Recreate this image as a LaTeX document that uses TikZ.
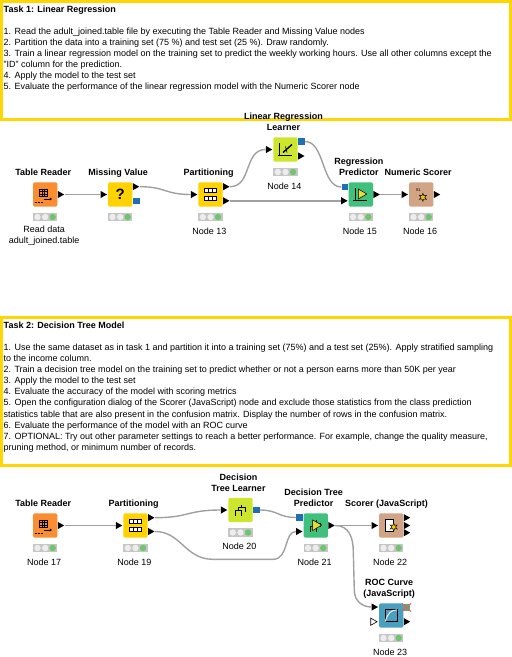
\documentclass[tikz,border=0pt]{standalone}
\usepackage{fontspec}
\setmainfont{Liberation Sans}
\usetikzlibrary{positioning,shapes.geometric}
\definecolor{FrameYellow}{HTML}{FFD700}
\definecolor{Reader}{HTML}{FA8C32}
\definecolor{Manip}{HTML}{FFD200}
\definecolor{Learner}{HTML}{CDE62D}
\definecolor{Predictor}{HTML}{3FC07C}
\definecolor{Scorer}{HTML}{D2A384}
\definecolor{Viewer}{HTML}{4A9FC1}
\definecolor{PortBlue}{HTML}{1F6FB5}
\definecolor{Wire}{HTML}{A0A0A0}
\definecolor{BarGray}{HTML}{C6C6C6}
\definecolor{LampOff}{HTML}{EDEDED}
\definecolor{LampOn}{HTML}{6CC76A}
\definecolor{IconYellow}{HTML}{E8DC32}
\definecolor{StarYellow}{HTML}{F5C810}
\definecolor{CrossRed}{HTML}{E8605A}
\tikzset{
  tableico/.pic={
    \draw[line width=0.5pt] (-5.7,-5.5) rectangle (1.7,2.2);
    \draw[line width=0.35pt] (-5.7,-3) -- (1.7,-3) (-5.7,-0.4) -- (1.7,-0.4) (-3.2,-5.5) -- (-3.2,2.2) (-0.8,-5.5) -- (-0.8,2.2);
    \draw[line width=0.8pt] (-1,4.5) -- (6.2,4.5);
    \fill (6.9,4.5) -- (4.6,3) -- (4.6,6) -- cycle;
    \foreach \x in {-9,-6,-3} \fill (\x-0.8,7.6) rectangle (\x+0.8,8.9);
  },
  partico/.pic={
    \foreach \y in {-3.8,3.8} {
      \draw[line width=0.8pt, fill=white] (-6,\y-1.9) rectangle (6,\y+1.9);
      \draw[line width=0.8pt] (-2,\y-1.9) -- (-2,\y+1.9) (2,\y-1.9) -- (2,\y+1.9);
    }
  },
  axesico/.pic={
    \draw[line width=0.8pt] (-5.8,-6.5) -- (-5.8,6.5) (-8,5.4) -- (6.5,5.4);
  },
  treeico/.pic={
    \draw[line width=1pt] (-5,6) -- (-5,0.5) -- (0.5,0.5) -- (0.5,6) (-2.2,0.5) -- (-2.2,-2.5) -- (4.5,-2.5) -- (4.5,1.5) (1,-2.5) -- (1,-5.5);
  },
  starico/.pic={
    \draw[fill=StarYellow, line width=0.5pt] (0,-4) -- (0.95,-1.65) -- (3.46,-2) -- (1.9,0) -- (3.46,2) -- (0.95,1.65) -- (0,4) -- (-0.95,1.65) -- (-3.46,2) -- (-1.9,0) -- (-3.46,-2) -- (-0.95,-1.65) -- cycle;
  }
}

\begin{document}
\begin{tikzpicture}[
  x=1pt, y=-1pt,
  knode/.style={
    rounded corners=1.5pt,
    inner sep=0pt,
    minimum width=24.4pt,
    minimum height=24.4pt
  },
  lights/.style={
    fill=BarGray,
    inner sep=0pt,
    minimum width=24.4pt,
    minimum height=8.8pt,
    below=5.5pt of #1,
    path picture={
      \fill[LampOff] ([xshift=-7.7pt]path picture bounding box.center) circle (3.2pt);
      \fill[LampOff] (path picture bounding box.center) circle (3.2pt);
      \fill[LampOn] ([xshift=7.5pt]path picture bounding box.center) circle (3.2pt);
    }
  },
  port/.style={
    isosceles triangle,
    isosceles triangle stretches,
    fill=black,
    inner sep=0pt,
    minimum width=7.2pt,
    minimum height=6.4pt
  },
  holeport/.style={port, fill=white, draw=black, line width=0.6pt},
  modelport/.style={fill=PortBlue, inner sep=0pt, minimum size=6.7pt},
  wire/.style={draw=Wire, line width=1.4pt},
  frame/.style={draw=FrameYellow, line width=3pt},
  tasktext/.style={anchor=north west, align=left, inner sep=0pt, font=\fontsize{9}{11.1}\selectfont},
  toplabel/.style={above=3pt of #1, xshift=-2pt, align=center, inner sep=0pt,
    font=\fontsize{9}{11}\selectfont\bfseries, execute at end node={\strut}},
  botlabel/.style={below=4.5pt of #1, xshift=-1pt, align=center, inner sep=0pt,
    font=\fontsize{9}{11}\selectfont, execute at begin node={\strut}}
]
\useasboundingbox (0,0) rectangle (512,657);

% frames and task texts
\draw[frame] (1.5,1.5) rectangle (510.5,119.5);
\draw[frame] (1.5,317.5) rectangle (510.5,465);

\node[tasktext] (task1) at (3.5,5.5) {\textbf{Task 1: Linear Regression}\\[11.1pt]
1. Read the adult\_joined.table file by executing the Table Reader and Missing Value nodes\\
2. Partition the data into a training set (75 \%) and test set (25 \%). Draw randomly.\\
3. Train a linear regression model on the training set to predict the weekly working hours. Use all other columns except the\\
"ID" column for the prediction.\\
4. Apply the model to the test set\\
5. Evaluate the performance of the linear regression model with the Numeric Scorer node};

\node[tasktext] (task2) at (3.5,321.5) {\textbf{Task 2: Decision Tree Model}\\[11.1pt]
1. Use the same dataset as in task 1 and partition it into a training set (75\%) and a test set (25\%). Apply stratified sampling\\
to the income column.\\
2. Train a decision tree model on the training set to predict whether or not a person earns more than 50K per year\\
3. Apply the model to the test set\\
4. Evaluate the accuracy of the model with scoring metrics\\
5. Open the configuration dialog of the Scorer (JavaScript) node and exclude those statistics from the class prediction\\
statistics table that are also present in the confusion matrix. Display the number of rows in the confusion matrix.\\
6. Evaluate the performance of the model with an ROC curve\\
7. OPTIONAL: Try out other parameter settings to reach a better performance. For example, change the quality measure,\\
pruning method, or minimum number of records.};

% task 1 nodes
\node[knode, fill=Reader] (reader1) at (45.2,194.5) {};
\node[knode, fill=Manip] (missing1) at (120.2,194.5) {};
\node[knode, fill=Manip] (part1) at (210.5,194.5) {};
\node[knode, fill=Learner] (lrlearn) at (285.5,149.5) {};
\node[knode, fill=Predictor] (lrpred) at (360.8,194.5) {};
\node[knode, fill=Scorer] (numscore) at (421.2,194.5) {};

\node[lights=reader1] (lamp1) {};
\node[lights=missing1] (lamp2) {};
\node[lights=part1] (lamp3) {};
\node[lights=lrlearn] (lamp4) {};
\node[lights=lrpred] (lamp5) {};
\node[lights=numscore] (lamp6) {};

\node[toplabel=reader1] (name1) {Table Reader};
\node[toplabel=missing1] (name2) {Missing Value};
\node[toplabel=part1] (name3) {Partitioning};
\node[toplabel=lrlearn] (name4) {Linear Regression\\Learner};
\node[toplabel=lrpred] (name5) {Regression\\Predictor};
\node[toplabel=numscore, xshift=-1pt] (name6) {Numeric Scorer};

\node[botlabel=lamp1] (note1) {Read data\\adult\_joined.table};
\node[botlabel=lamp3] (note3) {Node 13};
\node[botlabel=lamp4] (note4) {Node 14};
\node[botlabel=lamp5] (note5) {Node 15};
\node[botlabel=lamp6] (note6) {Node 16};

% task 1 ports
\node[port, right=0pt of reader1] (reader1o) {};
\node[port, left=0.3pt of missing1] (missing1i) {};
\node[port, right=0pt of missing1, yshift=7.8pt] (missing1o) {};
\node[modelport, right=0pt of missing1, yshift=-6.5pt] (missing1m) {};
\node[port, left=0.3pt of part1] (part1i) {};
\node[port, right=0pt of part1, yshift=7.8pt] (part1a) {};
\node[port, right=0pt of part1, yshift=-6.3pt] (part1b) {};
\node[port, left=0.3pt of lrlearn] (lrlearni) {};
\node[modelport, right=0pt of lrlearn, yshift=8pt] (lrlearnm) {};
\node[port, right=0pt of lrlearn, yshift=-6.5pt] (lrlearno) {};
\node[modelport, left=0pt of lrpred, yshift=7.5pt] (lrpredm) {};
\node[port, left=0.3pt of lrpred, yshift=-6.3pt] (lrpredi) {};
\node[port, right=0pt of lrpred] (lrpredo) {};
\node[port, left=0.3pt of numscore] (numscorei) {};
\node[port, right=0pt of numscore] (numscoreo) {};

\draw[wire] (reader1o.east) -- (missing1i.west);
\draw[wire] (missing1o.east) .. controls +(26,0) and +(-26,0) .. (part1i.west);
\draw[wire] (part1a.east) .. controls +(22,0) and +(-22,0) .. (lrlearni.west);
\draw[wire] (part1b.east) -- (lrpredi.west);
\draw[wire] (lrlearnm.east) .. controls +(20,0) and +(-20,0) .. (lrpredm.west);
\draw[wire] (lrpredo.east) -- (numscorei.west);

% task 1 icons
\pic at (reader1.center) {tableico};
\node[font=\fontsize{15}{15}\selectfont\bfseries, inner sep=0pt] (qmark) at (missing1.center) {?};
\pic at (part1.center) {partico};
\pic at (lrlearn.center) {axesico};
\draw[line width=1.4pt] ([shift={(-2.5,3)}]lrlearn.center) -- ([shift={(6.5,-5)}]lrlearn.center);
\draw[line width=0.7pt] ([shift={(0,-3)}]lrlearn.center) -- ([shift={(1.5,3)}]lrlearn.center);
\pic at (lrpred.center) {axesico};
\draw[fill=IconYellow, line width=0.5pt] ([shift={(-2.5,-5.5)}]lrpred.center) -- ([shift={(6,-0.5)}]lrpred.center) -- ([shift={(-2.5,4.5)}]lrpred.center) -- cycle;
\node[font=\fontsize{4}{4}\selectfont, inner sep=0pt] (sone) at ([shift={(-3,-4.5)}]numscore.center) {S1};
\pic at ([shift={(1.7,2.8)}]numscore.center) {starico};

% task 2 nodes
\node[knode, fill=Reader] (reader2) at (45.2,525.5) {};
\node[knode, fill=Manip] (part2) at (135.5,525.5) {};
\node[knode, fill=Learner] (dtlearn) at (240.5,510) {};
\node[knode, fill=Predictor] (dtpred) at (315.7,525.5) {};
\node[knode, fill=Scorer] (jsscore) at (391.2,525.5) {};
\node[knode, fill=Viewer] (roc) at (391.2,615.5) {};

\node[lights=reader2] (lamp7) {};
\node[lights=part2] (lamp8) {};
\node[lights=dtlearn] (lamp9) {};
\node[lights=dtpred] (lamp10) {};
\node[lights=jsscore] (lamp11) {};
\node[lights=roc] (lamp12) {};

\node[toplabel=reader2] (name7) {Table Reader};
\node[toplabel=part2] (name8) {Partitioning};
\node[toplabel=dtlearn] (name9) {Decision\\Tree Learner};
\node[toplabel=dtpred] (name10) {Decision Tree\\Predictor};
\node[toplabel=jsscore, xshift=-2.7pt] (name11) {Scorer (JavaScript)};
\node[toplabel=roc] (name12) {ROC Curve\\(JavaScript)};

\node[botlabel=lamp7] (note7) {Node 17};
\node[botlabel=lamp8] (note8) {Node 19};
\node[botlabel=lamp9] (note9) {Node 20};
\node[botlabel=lamp10] (note10) {Node 21};
\node[botlabel=lamp11] (note11) {Node 22};
\node[botlabel=lamp12] (note12) {Node 23};

% task 2 ports
\node[port, right=0pt of reader2] (reader2o) {};
\node[port, left=0.3pt of part2] (part2i) {};
\node[port, right=0pt of part2, yshift=7.8pt] (part2a) {};
\node[port, right=0pt of part2, yshift=-6pt] (part2b) {};
\node[port, left=0.3pt of dtlearn] (dtlearni) {};
\node[modelport, right=0pt of dtlearn] (dtlearnm) {};
\node[modelport, left=0pt of dtpred, yshift=8pt] (dtpredm) {};
\node[port, left=0.3pt of dtpred, yshift=-6pt] (dtpredi) {};
\node[port, right=0pt of dtpred] (dtpredo) {};
\node[port, left=0.3pt of jsscore] (jsscorei) {};
\node[port, right=0pt of jsscore, yshift=7.8pt] (jsscorea) {};
\node[port, right=0pt of jsscore] (jsscoreb) {};
\node[port, right=0pt of jsscore, yshift=-7.2pt] (jsscorec) {};
\node[port, left=0.3pt of roc, yshift=8.5pt] (roci) {};
\node[holeport, left=0.9pt of roc, yshift=-6.2pt] (rocj) {};
\node[port, right=0pt of roc, yshift=-6.2pt] (roco) {};

\coordinate (sagl) at (213,559.3);
\coordinate (sagr) at (273,559.3);
\coordinate (dropt) at (353.3,552);
\coordinate (dropb) at (354.3,590);

\draw[wire] (reader2o.east) -- (part2i.west);
\draw[wire] (part2a.east) .. controls +(34,0) and +(-34,0) .. (dtlearni.west);
\draw[wire] (part2b.east) .. controls +(26,0) and +(-28,0) .. (sagl) -- (sagr) .. controls +(16,0) and +(-12,0) .. (dtpredi.west);
\draw[wire] (dtlearnm.east) .. controls +(18,0) and +(-18,0) .. (dtpredm.west);
\draw[wire] (dtpredo.east) -- (jsscorei.west);
\draw[wire] (dtpredo.east) .. controls +(14,0) and +(0,-14) .. (dropt) -- (dropb) .. controls +(0,12) and +(-8,0) .. (roci.west);

% task 2 icons
\pic at (reader2.center) {tableico};
\pic at (part2.center) {partico};
\pic at (dtlearn.center) {treeico};
\pic at (dtpred.center) {treeico};
\draw[fill=IconYellow, line width=0.5pt] ([shift={(-3,-5.5)}]dtpred.center) -- ([shift={(6,-0.5)}]dtpred.center) -- ([shift={(-3,5)}]dtpred.center) -- cycle;
\draw[fill=white, line width=0.7pt] ([shift={(-5.5,-6)}]jsscore.center) rectangle ([shift={(2,5.5)}]jsscore.center);
\pic at ([shift={(2.5,1.5)}]jsscore.center) {starico};
\draw[line width=0.8pt] ([shift={(-6.3,-6)}]roc.center) rectangle ([shift={(6.5,6)}]roc.center);
\draw[white, line width=0.9pt] ([shift={(-6,6)}]roc.center) .. controls ([shift={(-3,-3)}]roc.center) and ([shift={(0,-5.5)}]roc.center) .. ([shift={(6,-5.7)}]roc.center);
\fill[Predictor!70!gray] (403,604) rectangle (410,611);
\draw[CrossRed, line width=1.1pt] (402,603.5) -- (411,611.5) (411,603.5) -- (402,611.5);
\end{tikzpicture}
\end{document}
